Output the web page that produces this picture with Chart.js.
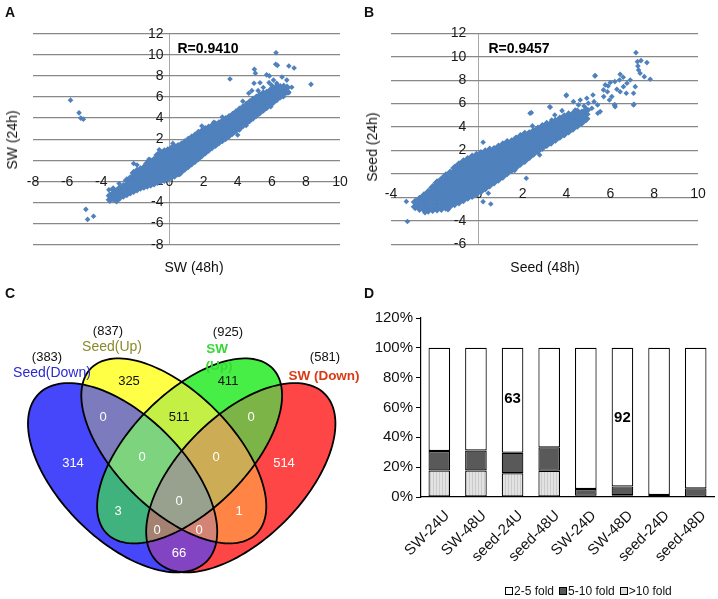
<!DOCTYPE html>
<html lang="en">
<head>
  <meta charset="UTF-8">
  <title>Expression comparison</title>
  <script src="https://cdn.jsdelivr.net/npm/chart.js"></script>
  <style>
    body { margin: 0; background: #fff; font-family: "Liberation Sans", Arial, Helvetica, sans-serif; }
    #page { position: relative; width: 718px; height: 599px; overflow: hidden; }
    canvas { position: absolute; }
    .txt { position: absolute; white-space: nowrap; line-height: 1; color: #111; transform: translate(-50%, -50%); }
    .letter { font-weight: bold; font-size: 14px; }
    .title { font-size: 14px; }
    .rval { font-weight: bold; font-size: 14px; color: #000; }
    #foldLegend { position: absolute; left: 505px; top: 584px; font-size: 12px; color: #111; display: flex; align-items: center; }
    #foldLegend span.sw { display: inline-block; width: 6px; height: 6px; border: 1px solid #000; margin-right: 1px; }
    #foldLegend span.it { margin-right: 5px; }
  </style>
</head>
<body>
<div id="page">
  <canvas id="swScatter" width="358" height="300" style="left:0;top:0"></canvas>
  <canvas id="seedScatter" width="360" height="300" style="left:358px;top:0"></canvas>
  <canvas id="vennCanvas" width="362" height="299" style="left:0;top:300px"></canvas>
  <canvas id="foldBars" width="360" height="299" style="left:358px;top:300px"></canvas>

  <div class="txt letter" style="left:10px;top:12px">A</div>
  <div class="txt letter" style="left:369px;top:12px">B</div>
  <div class="txt letter" style="left:10px;top:293px">C</div>
  <div class="txt letter" style="left:369px;top:293px">D</div>

  <div class="txt title" style="left:12px;top:140px;transform:translate(-50%,-50%) rotate(-90deg)">SW (24h)</div>
  <div class="txt title" style="left:194px;top:267px">SW (48h)</div>
  <div class="txt title" style="left:372px;top:147px;transform:translate(-50%,-50%) rotate(-90deg)">Seed (24h)</div>
  <div class="txt title" style="left:545px;top:267px">Seed (48h)</div>
  <div class="txt rval" style="left:208px;top:48px">R=0.9410</div>
  <div class="txt rval" style="left:519px;top:48px">R=0.9457</div>

  <div id="foldLegend"></div>
</div>
<script>
  // ---- data ----
  // A: log2 fold change, SW 48h (x) vs SW 24h (y): scattered genes, then the dense main cloud
  const swSpread = [
    [-5.8,5.7],[-5.3,4.5],[-5.2,4.0],[-5.05,3.9],[-4.9,-4.65],[-4.8,-5.6],[-4.45,-5.3],
    [-3.55,-2.8],[-3.45,-3.45],[-2.95,-2.2],[-2.1,-0.3],[-1.9,-0.45],[0.6,-1.35],
    [1.9,3.25],[3.55,7.7],[4.98,8.62],[5.04,8.25],[6.25,10.2],[6.23,9.1],[6.33,9.0],
    [7.0,8.94],[7.31,8.75],[8.3,7.2],[5.7,8.1],[5.86,8.0],[6.88,7.6],[4.96,7.3],[5.31,7.35],
    [5.84,7.36],[4.65,6.35],[4.83,6.6],[5.7,4.93],[5.94,5.08],[3.95,2.94],[4.1,2.87],
    [6.29,7.3],[6.68,6.03],[7.17,6.92],[4.0,2.4],[6.6,7.9],[6.1,7.6],[5.5,6.9],[6.0,7.1],
    [6.5,6.4],[6.8,6.7],[7.0,6.4],[5.2,6.6],[4.3,5.6],[3.1,4.1],[2.6,3.6],[3.3,2.0],[4.5,3.3],
    [0.2,1.6],[-0.6,1.0],[-1.2,0.1],[6.7,7.1]
  ];
  const swCloud = [
    [-3.5,-3.75],[-3.5,-3.35],
    [-3.3,-3.6],[-3.3,-3.15],[-3.3,-2.75],
    [-3.1,-3.8],[-3.1,-3.4],[-3.1,-3.0],
    [-2.9,-3.5],[-2.9,-3.05],[-2.9,-2.6],
    [-2.7,-3.35],[-2.7,-2.9],[-2.7,-2.45],
    [-2.5,-3.2],[-2.5,-2.75],[-2.5,-2.3],[-2.5,-1.9],
    [-2.3,-3.05],[-2.3,-2.6],[-2.3,-2.15],[-2.3,-1.7],
    [-2.1,-2.9],[-2.1,-2.45],[-2.1,-2.0],[-2.1,-1.55],[-2.1,-1.2],
    [-1.9,-2.75],[-1.9,-2.3],[-1.9,-1.85],[-1.9,-1.4],[-1.9,-1.0],
    [-1.7,-2.6],[-1.7,-2.15],[-1.7,-1.7],[-1.7,-1.25],[-1.7,-0.85],
    [-1.5,-2.5],[-1.5,-2.05],[-1.5,-1.6],[-1.5,-1.15],[-1.5,-0.7],
    [-1.3,-2.4],[-1.3,-1.95],[-1.3,-1.5],[-1.3,-1.05],[-1.3,-0.6],[-1.3,-0.3],
    [-1.1,-2.3],[-1.1,-1.85],[-1.1,-1.4],[-1.1,-0.95],[-1.1,-0.5],[-1.1,-0.1],
    [-0.9,-2.2],[-0.9,-1.75],[-0.9,-1.3],[-0.9,-0.85],[-0.9,-0.4],[-0.9,0.05],
    [-0.7,-2.05],[-0.7,-1.6],[-0.7,-1.15],[-0.7,-0.7],[-0.7,-0.25],[-0.7,0.2],[-0.7,0.5],
    [-0.5,-1.95],[-0.5,-1.5],[-0.5,-1.05],[-0.5,-0.6],[-0.5,-0.15],[-0.5,0.3],[-0.5,0.7],
    [-0.3,-1.85],[-0.3,-1.4],[-0.3,-0.95],[-0.3,-0.5],[-0.3,-0.05],[-0.3,0.4],[-0.3,0.85],
    [-0.1,-1.75],[-0.1,-1.3],[-0.1,-0.85],[-0.1,-0.4],[-0.1,0.05],[-0.1,0.5],[-0.1,0.95],
    [0.1,-1.6],[0.1,-1.15],[0.1,-0.7],[0.1,-0.25],[0.1,0.2],[0.1,0.65],[0.1,1.1],
    [0.3,-1.45],[0.3,-1.0],[0.3,-0.55],[0.3,-0.1],[0.3,0.35],[0.3,0.8],[0.3,1.25],
    [0.5,-1.25],[0.5,-0.8],[0.5,-0.35],[0.5,0.1],[0.5,0.55],[0.5,1.0],[0.5,1.35],
    [0.7,-1.05],[0.7,-0.6],[0.7,-0.15],[0.7,0.3],[0.7,0.75],[0.7,1.2],[0.7,1.5],
    [0.9,-0.8],[0.9,-0.35],[0.9,0.1],[0.9,0.55],[0.9,1.0],[0.9,1.45],[0.9,1.7],
    [1.1,-0.55],[1.1,-0.1],[1.1,0.35],[1.1,0.8],[1.1,1.25],[1.1,1.7],[1.1,1.95],
    [1.3,-0.3],[1.3,0.15],[1.3,0.6],[1.3,1.05],[1.3,1.5],[1.3,1.95],[1.3,2.15],
    [1.5,-0.05],[1.5,0.4],[1.5,0.85],[1.5,1.3],[1.5,1.75],[1.5,2.2],[1.5,2.35],
    [1.7,0.2],[1.7,0.65],[1.7,1.1],[1.7,1.55],[1.7,2.0],[1.7,2.45],[1.7,2.6],
    [1.9,0.5],[1.9,0.95],[1.9,1.4],[1.9,1.85],[1.9,2.3],[1.9,2.75],
    [2.1,0.75],[2.1,1.2],[2.1,1.65],[2.1,2.1],[2.1,2.55],[2.1,2.95],
    [2.3,1.0],[2.3,1.45],[2.3,1.9],[2.3,2.35],[2.3,2.8],[2.3,3.1],
    [2.5,1.25],[2.5,1.7],[2.5,2.15],[2.5,2.6],[2.5,3.05],[2.5,3.25],
    [2.7,1.45],[2.7,1.9],[2.7,2.35],[2.7,2.8],[2.7,3.25],[2.7,3.4],
    [2.9,1.7],[2.9,2.15],[2.9,2.6],[2.9,3.05],[2.9,3.5],
    [3.1,1.9],[3.1,2.35],[3.1,2.8],[3.1,3.25],[3.1,3.7],
    [3.3,2.15],[3.3,2.6],[3.3,3.05],[3.3,3.5],[3.3,3.9],
    [3.5,2.35],[3.5,2.8],[3.5,3.25],[3.5,3.7],[3.5,4.1],
    [3.7,2.6],[3.7,3.05],[3.7,3.5],[3.7,3.95],[3.7,4.3],
    [3.9,2.85],[3.9,3.3],[3.9,3.75],[3.9,4.2],[3.9,4.55],
    [4.1,3.05],[4.1,3.5],[4.1,3.95],[4.1,4.4],[4.1,4.8],
    [4.3,3.3],[4.3,3.75],[4.3,4.2],[4.3,4.65],[4.3,5.0],
    [4.5,3.55],[4.5,4.0],[4.5,4.45],[4.5,4.9],[4.5,5.25],
    [4.7,3.8],[4.7,4.25],[4.7,4.7],[4.7,5.15],[4.7,5.5],
    [4.9,4.05],[4.9,4.5],[4.9,4.95],[4.9,5.4],[4.9,5.75],
    [5.1,4.3],[5.1,4.75],[5.1,5.2],[5.1,5.65],[5.1,5.95],
    [5.3,4.55],[5.3,5.0],[5.3,5.45],[5.3,5.9],[5.3,6.15],
    [5.5,4.8],[5.5,5.25],[5.5,5.7],[5.5,6.15],[5.5,6.35],
    [5.7,5.05],[5.7,5.5],[5.7,5.95],[5.7,6.4],
    [5.9,5.3],[5.9,5.75],[5.9,6.2],[5.9,6.6],
    [6.1,5.55],[6.1,6.0],[6.1,6.45],[6.1,6.8],
    [6.3,5.8],[6.3,6.25],[6.3,6.7],[6.3,7.0],
    [6.5,6.05],[6.5,6.5],[6.5,6.95],
    [6.7,6.3],[6.7,6.75],
    [6.9,6.5],[6.9,6.9]
  ];

  // B: log2 fold change, Seed 48h (x) vs Seed 24h (y)
  const seedSpread = [
    [-3.3,-2.35],[-3.25,-4.05],[-1.4,-3.05],[-2.45,-3.3],[0.2,2.7],[0.55,-2.56],[0.2,-2.36],[0.44,-1.65],
    [2.34,5.18],[2.45,4.1],[2.17,-0.37],[1.64,0.3],[2.78,1.62],[3.24,5.74],[3.47,5.03],[2.4,5.23],
    [4.0,6.74],[5.3,8.36],[6.21,7.88],[6.59,8.25],[6.21,5.89],[7.08,5.95],
    [7.17,10.35],[7.24,9.58],[7.4,9.67],[7.67,9.5],[7.26,9.2],[7.29,8.87],[7.36,8.59],[7.55,8.3],
    [7.82,8.08],[5.31,8.39],[6.45,8.5],[6.42,8.02],[6.91,8.02],[6.76,7.74],[5.77,7.6],[5.87,7.02],
    [5.69,7.17],[6.3,7.23],[6.45,7.02],[6.6,7.45],[6.73,6.89],[7.06,6.89],[7.14,7.45],[6.07,6.6],
    [5.96,6.31],[6.19,5.89],[7.06,5.89],[5.21,6.74],[5.26,6.17],[5.42,5.89],[5.54,5.32],[4.93,6.46],
    [5.0,6.03],[5.16,5.6],[5.0,5.46],[6.22,5.74],[5.43,5.18],[4.63,6.31],[4.32,6.17],[4.55,5.89],
    [3.99,6.68],[3.26,5.69],[3.33,4.6],[4.4,5.46],[5.9,7.5],[6.0,7.8],[4.8,5.8],[5.7,6.6],[3.8,5.4]
  ];
  const seedCloud = [
    [-2.9,-2.8],[-2.9,-2.4],
    [-2.7,-2.95],[-2.7,-2.55],[-2.7,-2.15],
    [-2.5,-3.0],[-2.5,-2.6],[-2.5,-2.2],[-2.5,-1.85],
    [-2.3,-3.1],[-2.3,-2.7],[-2.3,-2.3],[-2.3,-1.9],[-2.3,-1.55],
    [-2.1,-3.05],[-2.1,-2.65],[-2.1,-2.25],[-2.1,-1.85],[-2.1,-1.45],[-2.1,-1.15],
    [-1.9,-3.0],[-1.9,-2.6],[-1.9,-2.2],[-1.9,-1.8],[-1.9,-1.4],[-1.9,-1.0],[-1.9,-0.75],
    [-1.7,-2.95],[-1.7,-2.55],[-1.7,-2.15],[-1.7,-1.75],[-1.7,-1.35],[-1.7,-0.95],[-1.7,-0.5],
    [-1.5,-2.85],[-1.5,-2.45],[-1.5,-2.05],[-1.5,-1.65],[-1.5,-1.25],[-1.5,-0.85],[-1.5,-0.45],[-1.5,-0.15],
    [-1.3,-2.7],[-1.3,-2.3],[-1.3,-1.9],[-1.3,-1.5],[-1.3,-1.1],[-1.3,-0.7],[-1.3,-0.3],[-1.3,0.1],
    [-1.1,-2.55],[-1.1,-2.15],[-1.1,-1.75],[-1.1,-1.35],[-1.1,-0.95],[-1.1,-0.55],[-1.1,-0.15],[-1.1,0.2],[-1.1,0.5],
    [-0.9,-2.4],[-0.9,-2.0],[-0.9,-1.6],[-0.9,-1.2],[-0.9,-0.8],[-0.9,-0.4],[-0.9,0.0],[-0.9,0.4],[-0.9,0.8],
    [-0.7,-2.2],[-0.7,-1.8],[-0.7,-1.4],[-0.7,-1.0],[-0.7,-0.6],[-0.7,-0.2],[-0.7,0.2],[-0.7,0.65],[-0.7,1.05],
    [-0.5,-2.0],[-0.5,-1.6],[-0.5,-1.2],[-0.5,-0.8],[-0.5,-0.4],[-0.5,0.0],[-0.5,0.4],[-0.5,0.85],[-0.5,1.25],
    [-0.3,-1.85],[-0.3,-1.45],[-0.3,-1.05],[-0.3,-0.65],[-0.3,-0.25],[-0.3,0.15],[-0.3,0.55],[-0.3,1.0],[-0.3,1.45],
    [-0.1,-1.65],[-0.1,-1.25],[-0.1,-0.85],[-0.1,-0.45],[-0.1,-0.05],[-0.1,0.35],[-0.1,0.75],[-0.1,1.15],[-0.1,1.6],
    [0.1,-1.45],[0.1,-1.05],[0.1,-0.65],[0.1,-0.25],[0.1,0.15],[0.1,0.55],[0.1,0.95],[0.1,1.35],[0.1,1.75],
    [0.3,-1.2],[0.3,-0.8],[0.3,-0.4],[0.3,0.0],[0.3,0.4],[0.3,0.8],[0.3,1.2],[0.3,1.6],[0.3,1.9],
    [0.5,-0.95],[0.5,-0.55],[0.5,-0.15],[0.5,0.25],[0.5,0.65],[0.5,1.05],[0.5,1.45],[0.5,1.85],[0.5,2.05],
    [0.7,-0.7],[0.7,-0.3],[0.7,0.1],[0.7,0.5],[0.7,0.9],[0.7,1.3],[0.7,1.7],[0.7,2.1],
    [0.9,-0.45],[0.9,-0.05],[0.9,0.35],[0.9,0.75],[0.9,1.15],[0.9,1.55],[0.9,1.95],[0.9,2.3],
    [1.1,-0.2],[1.1,0.2],[1.1,0.6],[1.1,1.0],[1.1,1.4],[1.1,1.8],[1.1,2.2],[1.1,2.5],
    [1.3,0.1],[1.3,0.5],[1.3,0.9],[1.3,1.3],[1.3,1.7],[1.3,2.1],[1.3,2.5],[1.3,2.7],
    [1.5,0.35],[1.5,0.75],[1.5,1.15],[1.5,1.55],[1.5,1.95],[1.5,2.35],[1.5,2.75],
    [1.7,0.6],[1.7,1.0],[1.7,1.4],[1.7,1.8],[1.7,2.2],[1.7,2.6],[1.7,3.0],
    [1.9,0.9],[1.9,1.3],[1.9,1.7],[1.9,2.1],[1.9,2.5],[1.9,2.9],[1.9,3.2],
    [2.1,1.15],[2.1,1.55],[2.1,1.95],[2.1,2.35],[2.1,2.75],[2.1,3.15],[2.1,3.4],
    [2.3,1.45],[2.3,1.85],[2.3,2.25],[2.3,2.65],[2.3,3.05],[2.3,3.45],
    [2.5,1.75],[2.5,2.15],[2.5,2.55],[2.5,2.95],[2.5,3.35],[2.5,3.65],
    [2.7,2.0],[2.7,2.4],[2.7,2.8],[2.7,3.2],[2.7,3.6],[2.7,3.85],
    [2.9,2.25],[2.9,2.65],[2.9,3.05],[2.9,3.45],[2.9,3.85],[2.9,4.05],
    [3.1,2.5],[3.1,2.9],[3.1,3.3],[3.1,3.7],[3.1,4.1],[3.1,4.25],
    [3.3,2.7],[3.3,3.1],[3.3,3.5],[3.3,3.9],[3.3,4.3],
    [3.5,2.95],[3.5,3.35],[3.5,3.75],[3.5,4.15],[3.5,4.5],
    [3.7,3.2],[3.7,3.6],[3.7,4.0],[3.7,4.4],[3.7,4.7],
    [3.9,3.4],[3.9,3.8],[3.9,4.2],[3.9,4.6],[3.9,4.9],
    [4.1,3.65],[4.1,4.05],[4.1,4.45],[4.1,4.85],[4.1,5.05],
    [4.3,3.9],[4.3,4.3],[4.3,4.7],[4.3,5.1],
    [4.5,4.15],[4.5,4.55],[4.5,4.95],[4.5,5.3],
    [4.7,4.4],[4.7,4.8],[4.7,5.2],
    [4.9,4.7],[4.9,5.1],[4.9,5.45]
  ];

  // C: Venn counts
  const vennSets = ['Seed(Down)', 'Seed(Up)', 'SW (Up)', 'SW (Down)'];
  const vennTotals = [383, 837, 925, 581];
  // each region is named by the sets (0..3 as above) it belongs to
  const vennRegions = ['0', '1', '2', '3', '01', '12', '23', '02', '13', '03', '012', '123', '013', '023', '0123'];
  const vennCounts = [314, 325, 411, 514, 0, 511, 0, 3, 1, 66, 0, 0, 0, 0, 0];

  // D: share of genes per fold-change class (%)
  const foldCats = ['SW-24U', 'SW-48U', 'seed-24U', 'seed-48U', 'SW-24D', 'SW-48D', 'seed-24D', 'seed-48D'];
  const foldOver10 = [17.8, 17.8, 15.9, 17.6, 0.9, 1.2, 0.4, 0.2];
  const fold5to10 = [13.0, 13.4, 13.8, 15.7, 4.5, 5.9, 0.9, 5.6];
  const fold2to5 = [69.2, 68.8, 70.3, 66.7, 94.6, 92.9, 98.7, 94.2];
  const calloutCats = ['seed-24U', 'SW-48D'];
  const calloutText = ['63', '92'];

  const FONT = '"Liberation Sans", Arial, Helvetica, sans-serif';
  Chart.defaults.font.family = FONT;

  // ---- A & B scatter plots ----
  const toXY = pairs => pairs.map(p => ({ x: p[0], y: p[1] }));

  function makeScatter(id, cloud, spread, cloudRadius, xr, yr, yLabelAt, xLabelGap, pad) {
    return new Chart(document.getElementById(id), {
      type: 'scatter',
      data: {
        datasets: [
          { data: toXY(cloud), pointStyle: 'rectRot', pointRadius: cloudRadius, backgroundColor: '#4f81bd', borderWidth: 0 },
          { data: toXY(spread), pointStyle: 'rectRot', pointRadius: 2.8, backgroundColor: '#4f81bd', borderWidth: 0 }
        ]
      },
      options: {
        responsive: false,
        animation: false,
        layout: { padding: pad },
        plugins: { legend: { display: false }, tooltip: { enabled: false } },
        scales: {
          // grid only
          x: {
            type: 'linear', position: 'bottom', min: xr[0], max: xr[1],
            ticks: { display: false, stepSize: 2 },
            border: { display: false },
            grid: { drawTicks: false, color: c => (c.tick && c.tick.value === 0) ? '#a8a8a8' : 'rgba(0,0,0,0)' }
          },
          y: {
            type: 'linear', position: 'left', min: yr[0], max: yr[1],
            ticks: { display: false, stepSize: 2 },
            border: { display: false },
            grid: { drawTicks: false, color: '#888888', lineWidth: 1.3 }
          },
          // labels sit on the zero lines, drawn above the points
          xt: {
            type: 'linear', axis: 'x', position: { y: 0 }, min: xr[0], max: xr[1], z: 1,
            grid: { display: false }, border: { display: false },
            ticks: { stepSize: 2, padding: xLabelGap, maxRotation: 0, autoSkip: false, color: '#1a1a1a', font: { size: 14 } }
          },
          yt: {
            type: 'linear', axis: 'y', position: { x: yLabelAt }, min: yr[0], max: yr[1], z: 1,
            grid: { display: false }, border: { display: false },
            ticks: { stepSize: 2, padding: 0, autoSkip: false, color: '#1a1a1a', font: { size: 14 } }
          }
        }
      }
    });
  }

  makeScatter('swScatter', swCloud, swSpread, 4.1, [-8, 10], [-8, 12], -0.35, 5.3,
    { left: 33, right: 18, top: 33.7, bottom: 55.3 });
  makeScatter('seedScatter', seedCloud, seedSpread, 4.4, [-4, 10], [-6, 12], -0.57, 3.3,
    { left: 33, right: 20, top: 33.3, bottom: 55.7 });

  // ---- C Venn diagram ----
  const vennPlugin = {
    id: 'venn',
    afterDraw(chart) {
      const { ctx, chartArea, scales: { x, y } } = chart;
      const shapes = [
        { cx: 122.6, cy: 177.7, a: 118.6, b: 62, rot: Math.PI / 4 },
        { cx: 173.8, cy: 150.9, a: 117, b: 58.5, rot: Math.PI / 4 },
        { cx: 189.6, cy: 150.9, a: 117, b: 58.5, rot: -Math.PI / 4 },
        { cx: 240.8, cy: 177.7, a: 118.6, b: 62, rot: -Math.PI / 4 }
      ];
      const fills = {
        '0': '#4646fa', '1': '#ffff46', '2': '#46ee46', '3': '#ff4646',
        '01': '#7b7bbd', '12': '#c4f046', '23': '#7cb448', '02': '#40b27e', '13': '#ff8446', '03': '#8244c2',
        '012': '#7ed47e', '123': '#ccac54', '013': '#d48474', '023': '#a48272', '0123': '#98a08e'
      };
      const spots = {
        '0': [73, 163], '1': [129, 81], '2': [228, 81], '3': [284, 163],
        '01': [103, 117], '12': [179, 117], '23': [251, 117], '02': [118, 211], '13': [239, 211], '03': [179, 253],
        '012': [142, 157], '123': [216, 157], '013': [199, 230], '023': [157, 230], '0123': [179, 201]
      };
      const darkText = ['1', '2', '12'];
      const trace = s => {
        ctx.beginPath();
        for (let i = 0; i <= 144; i++) {
          const t = i / 144 * Math.PI * 2;
          const u = s.a * Math.cos(t), v = s.b * Math.sin(t);
          const px = x.getPixelForValue(s.cx + u * Math.cos(s.rot) - v * Math.sin(s.rot));
          const py = y.getPixelForValue(s.cy + u * Math.sin(s.rot) + v * Math.cos(s.rot));
          if (i === 0) ctx.moveTo(px, py); else ctx.lineTo(px, py);
        }
        ctx.closePath();
      };

      // paint from single sets up to the 4-way overlap, each overlap clipped to its ellipses
      const order = vennRegions.map((r, i) => i).sort((p, q) => vennRegions[p].length - vennRegions[q].length);
      order.forEach(i => {
        ctx.save();
        for (const ch of vennRegions[i]) { trace(shapes[+ch]); ctx.clip(); }
        ctx.fillStyle = fills[vennRegions[i]];
        ctx.fillRect(chartArea.left, chartArea.top, chartArea.width, chartArea.height);
        ctx.restore();
      });

      ctx.save();
      ctx.strokeStyle = '#000';
      ctx.lineWidth = 1.8;
      shapes.forEach(s => { trace(s); ctx.stroke(); });

      ctx.textAlign = 'center';
      ctx.textBaseline = 'middle';
      ctx.font = '13px ' + FONT;
      vennRegions.forEach((r, i) => {
        ctx.fillStyle = darkText.includes(r) ? '#111' : '#fff';
        ctx.fillText(String(vennCounts[i]), x.getPixelForValue(spots[r][0]), y.getPixelForValue(spots[r][1]));
      });

      // set names and totals
      const heads = [
        { tot: [47, 57], name: [52, 73], color: '#2a2ad2' },
        { tot: [108, 31], name: [112, 47], color: '#8a8a2c' },
        { tot: [228, 32], name: [217, 49], color: '#38d838' },
        { tot: [325, 57], name: [324, 76], color: '#dc3a14' }
      ];
      heads.forEach((h, i) => {
        ctx.fillStyle = '#111';
        ctx.font = '13px ' + FONT;
        ctx.fillText('(' + vennTotals[i] + ')', x.getPixelForValue(h.tot[0]), y.getPixelForValue(h.tot[1]));
        ctx.fillStyle = h.color;
        ctx.font = (i >= 2 ? 'bold 13.5px ' : '14px ') + FONT;
        const lines = i === 2 ? vennSets[i].split(' ') : [vennSets[i]];
        lines.forEach((ln, k) => {
          ctx.fillText(ln, x.getPixelForValue(h.name[0] + k * 2), y.getPixelForValue(h.name[1] + k * 17));
        });
      });
      ctx.restore();
    }
  };

  new Chart(document.getElementById('vennCanvas'), {
    type: 'scatter',
    data: { datasets: [] },
    options: {
      responsive: false,
      animation: false,
      layout: { padding: 0 },
      plugins: { legend: { display: false }, tooltip: { enabled: false } },
      scales: {
        x: { type: 'linear', min: 0, max: 362, display: false },
        y: { type: 'linear', min: 0, max: 299, reverse: true, display: false }
      }
    },
    plugins: [vennPlugin]
  });

  // ---- D stacked bars ----
  const tile = document.createElement('canvas');
  tile.width = 3; tile.height = 6;
  const tctx = tile.getContext('2d');
  tctx.fillStyle = '#e2e2e2';
  tctx.fillRect(0, 0, 3, 6);
  tctx.fillStyle = '#cbcbcb';
  tctx.fillRect(0, 0, 1, 6);
  const dotted = tctx.createPattern(tile, 'repeat');

  const calloutPlugin = {
    id: 'callouts',
    afterDatasetsDraw(chart) {
      const { ctx, scales: { x, y } } = chart;
      const levels = [65.5, 53];
      ctx.save();
      ctx.font = 'bold 15px ' + FONT;
      ctx.fillStyle = '#000';
      ctx.textAlign = 'center';
      ctx.textBaseline = 'middle';
      calloutCats.forEach((c, i) => {
        ctx.fillText(calloutText[i], x.getPixelForValue(foldCats.indexOf(c)), y.getPixelForValue(levels[i]));
      });
      ctx.restore();
    }
  };

  const barStyle = { borderColor: '#000', borderWidth: 1.2, borderSkipped: false };
  const foldChart = new Chart(document.getElementById('foldBars'), {
    type: 'bar',
    data: {
      labels: foldCats,
      datasets: [
        { label: '>10 fold', data: foldOver10, backgroundColor: dotted, swatch: '#dcdcdc', ...barStyle },
        { label: '5-10 fold', data: fold5to10, backgroundColor: '#595959', swatch: '#595959', ...barStyle },
        { label: '2-5 fold', data: fold2to5, backgroundColor: '#ffffff', swatch: '#ffffff', ...barStyle }
      ]
    },
    options: {
      responsive: false,
      animation: false,
      layout: { padding: { top: 18, right: 4, left: 0, bottom: 0 } },
      datasets: { bar: { categoryPercentage: 1, barPercentage: 0.59 } },
      plugins: { legend: { display: false }, tooltip: { enabled: false } },
      scales: {
        x: {
          stacked: true,
          grid: { display: false },
          border: { color: '#000', width: 1.2 },
          ticks: { minRotation: 45, maxRotation: 45, font: { size: 15 }, color: '#111', padding: 2, labelOffset: 8 },
          afterFit: s => { s.height = 102; }
        },
        y: {
          stacked: true, min: 0, max: 120,
          ticks: { stepSize: 20, callback: v => v + '%', font: { size: 15 }, color: '#111', padding: 3 },
          grid: { drawOnChartArea: false, tickLength: 5, tickColor: '#000' },
          border: { color: '#000', width: 1.2 },
          afterFit: s => { s.width = 63; }
        }
      }
    },
    plugins: [calloutPlugin]
  });

  // legend in the order of the original figure
  const legendBox = document.getElementById('foldLegend');
  foldChart.data.datasets.slice().reverse().forEach(ds => {
    const sw = document.createElement('span');
    sw.className = 'sw';
    sw.style.background = ds.swatch;
    const it = document.createElement('span');
    it.className = 'it';
    it.textContent = ds.label;
    legendBox.appendChild(sw);
    legendBox.appendChild(it);
  });
</script>
</body>
</html>
